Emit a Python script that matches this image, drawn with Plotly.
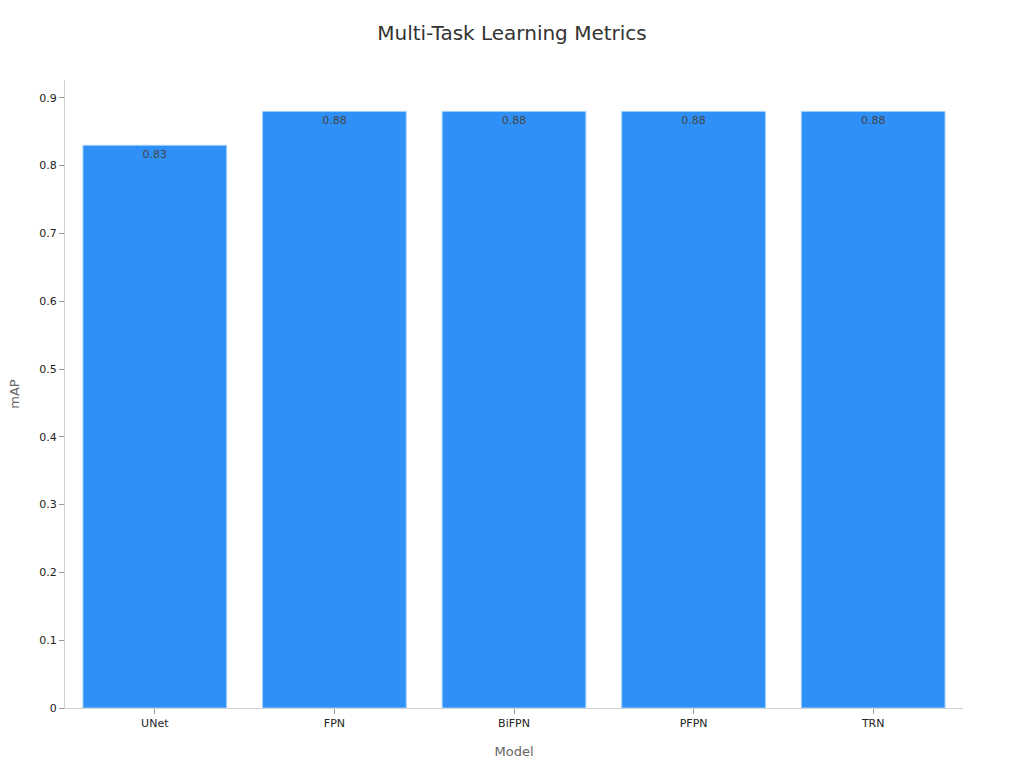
import plotly.graph_objects as go

models = ["UNet", "FPN", "BiFPN", "PFPN", "TRN"]
map_values = [0.83, 0.88, 0.88, 0.88, 0.88]

fig = go.Figure(go.Bar(
    x=models, y=map_values,
    text=[f"{v:.2f}" for v in map_values],
    textposition="inside", insidetextanchor="end",
    textfont=dict(color="#444444", size=11),
    marker=dict(color="#2f91f8", line=dict(color="#9fcff8", width=1)),
))
fig.update_layout(
    width=1024, height=768,
    paper_bgcolor="white", plot_bgcolor="white",
    font=dict(family="DejaVu Sans", color="#333333"),
    title=dict(text="Multi-Task Learning Metrics", x=0.5, xanchor="center", y=0.966,
               yanchor="top", font=dict(size=20, color="#333333")),
    margin=dict(l=65, r=61, t=80, b=60),
    bargap=0.2,
    showlegend=False,
    xaxis=dict(title=dict(text="Model", font=dict(size=13, color="#666666"), standoff=17),
               showline=True, linecolor="#d0d0d0", ticks="outside", tickcolor="#999999",
               ticklen=5, tickfont=dict(size=11, color="#222222")),
    yaxis=dict(title=dict(text="mAP", font=dict(size=13, color="#666666"), standoff=16),
               showline=True, linecolor="#d0d0d0", ticks="outside", tickcolor="#999999",
               ticklen=5, showgrid=False, zeroline=False, dtick=0.1,
               tickfont=dict(size=11, color="#222222")),
)
fig.write_html("out.html", config={"displayModeBar": False},
               post_script="document.body.style.margin='0';document.body.style.overflow='hidden';")
